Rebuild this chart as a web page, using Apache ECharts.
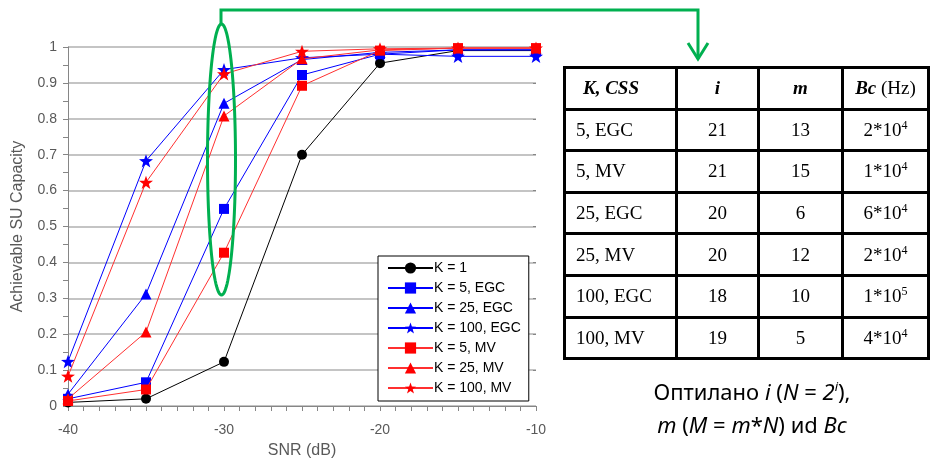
<!DOCTYPE html>
<html>
<head>
<meta charset="utf-8">
<script src="https://cdn.jsdelivr.net/npm/echarts@6/dist/echarts.min.js"></script>
<style>
  html, body { margin:0; padding:0; background:#fff; }
  #chart { position:absolute; left:0; top:0; width:930px; height:464px; }
  #tbl { position:absolute; left:563px; top:66px; width:364px; table-layout:fixed; border-collapse:collapse; font-family:"Liberation Serif","Times New Roman",serif; font-size:19px; color:#000; }
  #tbl td { border:3px solid #000; text-align:center; padding:0; height:38.6px; overflow:visible; white-space:nowrap; }
  #tbl td.first { text-align:left; padding-left:10px; }
  #tbl sup { font-size:12px; vertical-align:top; position:relative; top:-1px; }
  #cap { position:absolute; left:580px; width:344px; top:375px; text-align:center; font-family:"Noto Sans","Open Sans",sans-serif; font-size:22px; line-height:33px; color:#000; }
  #cap sup { font-size:13px; vertical-align:top; position:relative; top:-5px; }
</style>
</head>
<body>
<div id="chart"></div>
<table id="tbl"></table>
<div id="cap"></div>
<script>
// ---------------- data ----------------
const snr = [-40, -35, -30, -25, -20, -15, -10];
const k1      = [0.010, 0.020, 0.123, 0.700, 0.955, 0.990, 0.990];
const k5egc   = [0.020, 0.066, 0.549, 0.922, 0.980, 0.992, 0.992];
const k25egc  = [0.033, 0.312, 0.843, 0.965, 0.985, 0.992, 0.992];
const k100egc = [0.124, 0.683, 0.937, 0.970, 0.980, 0.974, 0.974];
const k5mv    = [0.014, 0.046, 0.427, 0.892, 0.990, 0.997, 0.997];
const k25mv   = [0.020, 0.206, 0.808, 0.967, 0.992, 0.997, 0.997];
const k100mv  = [0.083, 0.623, 0.925, 0.988, 0.995, 0.997, 0.997];
const seriesNames = ['K = 1', 'K = 5, EGC', 'K = 25, EGC', 'K = 100, EGC', 'K = 5, MV', 'K = 25, MV', 'K = 100, MV'];

// table
const tblHeader = ['K, CSS', 'i', 'm', 'Bc'];
const tblKcss = ['5, EGC', '5, MV', '25, EGC', '25, MV', '100, EGC', '100, MV'];
const tblI    = ['21', '21', '20', '20', '18', '19'];
const tblM    = ['13', '15', '6', '12', '10', '5'];
const tblBcM  = ['2', '1', '6', '2', '1', '4'];
const tblBcE  = ['4', '4', '4', '4', '5', '4'];

// ---------------- chart ----------------
const STAR = 'path://M0,-10L2.35,-3.24L9.51,-3.09L3.8,1.24L5.88,8.09L0,4L-5.88,8.09L-3.8,1.24L-9.51,-3.09L-2.35,-3.24Z';
const styles = [
  { c: '#000000', lc: '#000000', s: 'circle',   sz: 10 },
  { c: '#0000ff', lc: '#0000ff', s: 'rect',     sz: 10 },
  { c: '#0000ff', lc: '#0000ff', s: 'triangle', sz: 11 },
  { c: '#0000ff', lc: '#0000ff', s: STAR,       sz: 14 },
  { c: '#ff0000', lc: '#ff3030', s: 'rect',     sz: 10 },
  { c: '#ff0000', lc: '#ff3030', s: 'triangle', sz: 11 },
  { c: '#ff0000', lc: '#ff3030', s: STAR,       sz: 14 }
];
const allVals = [k1, k5egc, k25egc, k100egc, k5mv, k25mv, k100mv];

const series = allVals.map((vals, i) => ({
  name: seriesNames[i],
  type: 'line',
  data: snr.map((x, j) => [x, vals[j]]),
  symbol: styles[i].s,
  symbolSize: styles[i].sz,
  symbolKeepAspect: true,
  showAllSymbol: true,
  itemStyle: { color: styles[i].c, borderWidth: 0 },
  lineStyle: { color: styles[i].lc, width: 1 },
  emphasis: { disabled: true },
  animation: false,
  z: 3 + i
}));

const axisFont = { fontFamily: 'Arial, "Liberation Sans", sans-serif', color: '#595959' };

// ellipse annotation points
const ell = [];
for (let t = 0; t < 120; t++) {
  const a = t / 120 * Math.PI * 2;
  ell.push([221.5 + 14 * Math.cos(a), 159.5 + 135.5 * Math.sin(a)]);
}
const GREEN = '#00b050';

const chart = echarts.init(document.getElementById('chart'), null, { renderer: 'canvas' });
chart.setOption({
  animation: false,
  backgroundColor: '#ffffff',
  grid: { left: 68, right: 394, top: 47, bottom: 56.5, containLabel: false },
  xAxis: {
    type: 'value', min: -40, max: -10, interval: 10,
    name: 'SNR (dB)', nameLocation: 'middle', nameGap: 37,
    nameTextStyle: Object.assign({ fontSize: 16 }, axisFont),
    axisLine: { show: true, onZero: false, lineStyle: { color: '#868686', width: 1 } },
    axisTick: { show: true, inside: false, length: 5, lineStyle: { color: '#868686' } },
    minorTick: { show: true, splitNumber: 10, length: 5, lineStyle: { color: '#868686' } },
    axisLabel: Object.assign({ fontSize: 14, margin: 17 }, axisFont),
    splitLine: { show: false },
    minorSplitLine: { show: false }
  },
  yAxis: [{
    type: 'value', min: 0, max: 1, interval: 0.1,
    name: 'Achievable SU Capacity', nameLocation: 'middle', nameGap: 42, nameRotate: 90,
    nameTextStyle: Object.assign({ fontSize: 16 }, axisFont),
    axisLine: { show: true, lineStyle: { color: '#868686', width: 1 } },
    axisTick: { show: true, inside: false, length: 5, lineStyle: { color: '#868686' } },
    minorTick: { show: true, splitNumber: 2, length: 5, lineStyle: { color: '#868686' } },
    axisLabel: Object.assign({ fontSize: 14, margin: 11 }, axisFont),
    splitLine: { show: true, lineStyle: { color: '#b0b0b0', width: 1.5 } },
    minorSplitLine: { show: false }
  }, {
    type: 'value', min: 0, max: 1, interval: 0.1, position: 'right',
    axisLine: { show: false },
    axisTick: { show: true, inside: true, length: 3, lineStyle: { color: '#868686' } },
    axisLabel: { show: false },
    splitLine: { show: false }
  }],
  legend: {
    orient: 'vertical', left: 378, top: 256,
    padding: [5, 8, 6, 9],
    itemGap: 6, itemWidth: 45, itemHeight: 14,
    borderColor: '#000', borderWidth: 1, backgroundColor: '#fff',
    textStyle: { fontSize: 14, fontFamily: 'Arial, "Liberation Sans", sans-serif', color: '#000', padding: [0, 0, 0, -4] },
    data: seriesNames,
    selectedMode: false,
    z: 20
  },
  series: series,
  graphic: [
    { type: 'polygon', shape: { points: ell }, style: { fill: null, stroke: GREEN, lineWidth: 3 }, z: 50 },
    { type: 'polyline', shape: { points: [[221, 24], [221, 10], [698, 10], [698, 59]] }, style: { fill: null, stroke: GREEN, lineWidth: 3 }, z: 50 },
    { type: 'polyline', shape: { points: [[688, 43], [698, 59], [708, 43]] }, style: { fill: null, stroke: GREEN, lineWidth: 3 }, z: 50 }
  ]
});

// ---------------- table (HTML text) ----------------
const tbl = document.getElementById('tbl');
const colW = [112, 82, 84, 86];
let html = '<colgroup>' + colW.map(w => '<col style="width:' + w + 'px">').join('') + '</colgroup><tr>';
html += '<td class="first" style="padding-left:17px"><b><i>' + tblHeader[0] + '</i></b></td>';
html += '<td><b><i>' + tblHeader[1] + '</i></b></td>';
html += '<td><b><i>' + tblHeader[2] + '</i></b></td>';
html += '<td><b><i>' + tblHeader[3] + '</i></b> (Hz)</td>';
html += '</tr>';
for (let r = 0; r < tblKcss.length; r++) {
  html += '<tr><td class="first">' + tblKcss[r] + '</td><td>' + tblI[r] + '</td><td>' + tblM[r] +
          '</td><td>' + tblBcM[r] + '*10<sup>' + tblBcE[r] + '</sup></td></tr>';
}
tbl.innerHTML = html;

document.getElementById('cap').innerHTML =
  'Оптилано <i>i</i> (<i>N</i> = <i>2<sup>i</sup></i>),<br><i>m</i> (<i>M</i> = <i>m</i>*<i>N</i>) иd <i>Bc</i>';
</script>
</body>
</html>
